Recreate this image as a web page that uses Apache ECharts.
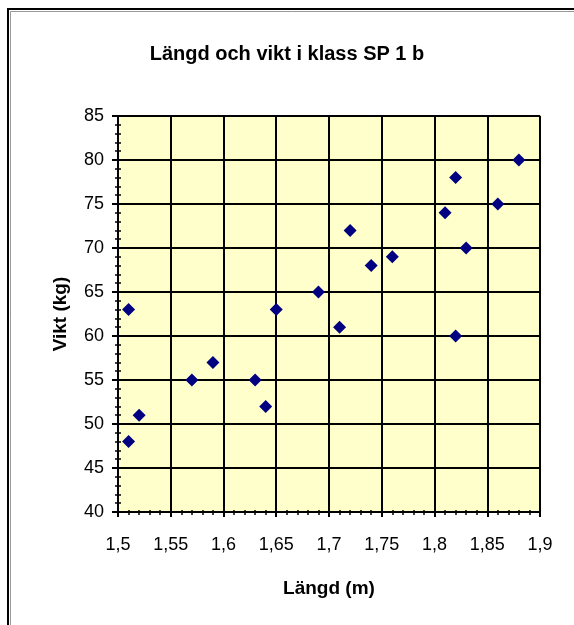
<!DOCTYPE html>
<html>
<head>
<meta charset="utf-8">
<script src="https://cdn.jsdelivr.net/npm/echarts@6/dist/echarts.min.js"></script>
<style>
  html, body { margin: 0; padding: 0; background: #fff; }
  #chart { width: 574px; height: 625px; }
</style>
</head>
<body>
<div id="chart"></div>
<script>
// längd (m) och vikt (kg)
const langd = [1.51, 1.51, 1.52, 1.57, 1.59, 1.63, 1.64, 1.65, 1.69, 1.71, 1.72, 1.74, 1.76, 1.81, 1.82, 1.82, 1.83, 1.86, 1.88];
const vikt  = [63,   48,   51,   55,   57,   55,   52,   63,   65,   61,   72,   68,   69,   74,   78,   60,   70,   75,   80];

const xMin = 1.5, xMax = 1.9, xStep = 0.05;
const yMin = 40, yMax = 85, yStep = 5;

const font = 'Arial, "Liberation Sans", sans-serif';
const chart = echarts.init(document.getElementById('chart'));

// punkterna
const points = langd.map((l, i) => [l, vikt[i]]);

// gemensamma axelinställningar (den andra axeln ger tickarna inåt)
const xBase = { type: 'value', min: xMin, max: xMax, interval: xStep, position: 'bottom' };
const yBase = { type: 'value', min: yMin, max: yMax, interval: yStep, position: 'left' };

const option = {
  animation: false,
  backgroundColor: '#fff',
  title: {
    text: 'Längd och vikt i klass SP 1 b',
    left: 'center',
    top: 39,
    textStyle: { fontFamily: font, fontSize: 20, fontWeight: 'bold', color: '#000' }
  },
  grid: {
    left: 118, top: 116, width: 422, height: 396,
    show: true,
    backgroundColor: '#FFFFCC',
    borderColor: '#D4D4A4',
    borderWidth: 2
  },
  xAxis: [
    Object.assign({}, xBase, {
      name: 'Längd (m)',
      nameLocation: 'middle',
      nameGap: 67,
      nameTextStyle: { fontFamily: font, fontSize: 19, fontWeight: 'bold', color: '#000' },
      axisLine: { onZero: false, lineStyle: { color: '#000', width: 2 } },
      axisTick: { length: 5, lineStyle: { color: '#000', width: 2 } },
      minorTick: { show: true, splitNumber: 5, length: 3, lineStyle: { color: '#000', width: 1.5 } },
      splitLine: { show: true, lineStyle: { color: '#000', width: 2 } },
      axisLabel: {
        margin: 24,
        fontFamily: font, fontSize: 18, color: '#000',
        formatter: v => String(+v.toFixed(2)).replace('.', ',')
      }
    }),
    Object.assign({}, xBase, {
      axisLine: { show: false, onZero: false },
      axisTick: { inside: true, length: 4, lineStyle: { color: '#000', width: 2 } },
      minorTick: { show: true, splitNumber: 5, length: 2, lineStyle: { color: '#000', width: 1.5 } },
      splitLine: { show: false },
      axisLabel: { show: false }
    })
  ],
  yAxis: [
    Object.assign({}, yBase, {
      name: 'Vikt (kg)',
      nameLocation: 'middle',
      nameGap: 48,
      nameTextStyle: { fontFamily: font, fontSize: 19, fontWeight: 'bold', color: '#000' },
      axisLine: { onZero: false, lineStyle: { color: '#000', width: 2 } },
      axisTick: { length: 6, lineStyle: { color: '#000', width: 2 } },
      minorTick: { show: true, splitNumber: 5, length: 3, lineStyle: { color: '#000', width: 1.5 } },
      splitLine: { show: true, lineStyle: { color: '#000', width: 2 } },
      axisLabel: { margin: 14, fontFamily: font, fontSize: 18, color: '#000' }
    }),
    Object.assign({}, yBase, {
      axisLine: { show: false, onZero: false },
      axisTick: { inside: true, length: 4, lineStyle: { color: '#000', width: 2 } },
      minorTick: { show: true, splitNumber: 5, length: 3, lineStyle: { color: '#000', width: 1.5 } },
      splitLine: { show: false },
      axisLabel: { show: false }
    })
  ],
  // ramen runt hela diagrammet
  graphic: [{
    type: 'rect',
    shape: { x: 8, y: 9, width: 620, height: 700 },
    style: { fill: 'none', stroke: '#000', lineWidth: 2 },
    silent: true
  }, {
    type: 'rect',
    shape: { x: 10.5, y: 11.5, width: 620, height: 700 },
    style: { fill: 'none', stroke: '#999', lineWidth: 1 },
    silent: true
  }],
  series: [{
    type: 'scatter',
    xAxisIndex: 0,
    yAxisIndex: 0,
    symbol: 'diamond',
    symbolSize: 13,
    itemStyle: { color: '#000080', opacity: 1 },
    data: points
  }]
};

chart.setOption(option);
</script>
</body>
</html>
